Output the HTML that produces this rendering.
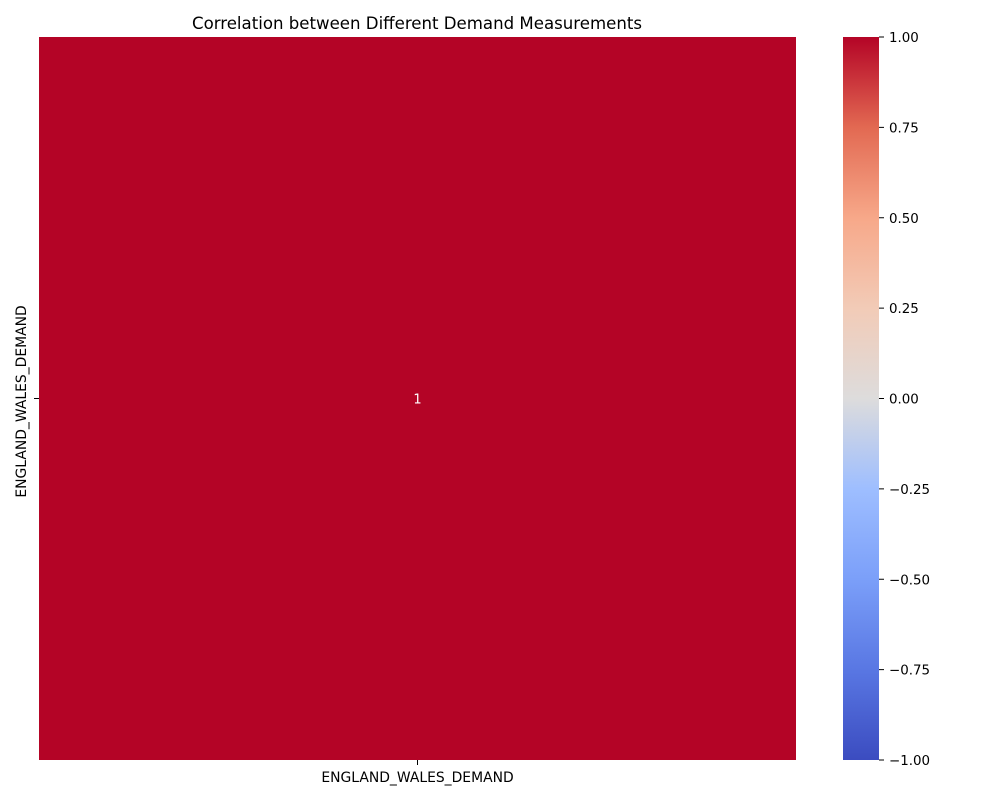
<!DOCTYPE html>
<html><head><meta charset="utf-8"><style>
body{margin:0;background:#fff;}
svg text{font-family:"DejaVu Sans","Liberation Sans",sans-serif;}
</style></head><body>
<svg id="chart" width="1000" height="800" xmlns="http://www.w3.org/2000/svg">
<defs>
<linearGradient id="cw" x1="0" y1="1" x2="0" y2="0">
<stop offset="0" stop-color="#3b4cc0"/>
<stop offset="0.125" stop-color="#5977e3"/>
<stop offset="0.25" stop-color="#7b9ff9"/>
<stop offset="0.375" stop-color="#9ebeff"/>
<stop offset="0.5" stop-color="#dddcdc"/>
<stop offset="0.625" stop-color="#f2cbb7"/>
<stop offset="0.75" stop-color="#f7a889"/>
<stop offset="0.875" stop-color="#e26952"/>
<stop offset="1" stop-color="#b40426"/>
</linearGradient>
</defs>
<text x="417" y="29" text-anchor="middle" font-size="16.6">Correlation between Different Demand Measurements</text>
<g id="cells"></g>
<rect x="843" y="37" width="36" height="723" fill="url(#cw)"/>
<g id="cbticks"></g>
</svg>
<script>
const labels = ["ENGLAND_WALES_DEMAND"];
const values = [[1]];
const cbTicks = [1.00, 0.75, 0.50, 0.25, 0.00, -0.25, -0.50, -0.75, -1.00];
const cbTickLabels = ["1.00","0.75","0.50","0.25","0.00","\u22120.25","\u22120.50","\u22120.75","\u22121.00"];

const NS="http://www.w3.org/2000/svg";
const X0=39,X1=796,Y0=37,Y1=760,CB0=37,CB1=760,CBX=879;
const n=labels.length, cw=(X1-X0)/n, ch=(Y1-Y0)/n;
const stops=[[-1,[59,76,192]],[-0.75,[89,119,227]],[-0.5,[123,159,249]],[-0.25,[158,190,255]],[0,[221,220,220]],[0.25,[242,203,183]],[0.5,[247,168,137]],[0.75,[226,105,82]],[1,[180,4,38]]];
function color(v){for(let i=0;i<stops.length-1;i++){const a=stops[i],b=stops[i+1];if(v<=b[0]){const t=(v-a[0])/(b[0]-a[0]);return "rgb("+a[1].map((c,k)=>Math.round(c+(b[1][k]-c)*t)).join(",")+")";}}return "rgb(180,4,38)";}
function mk(tag,attrs,text){const e=document.createElementNS(NS,tag);for(const k in attrs)e.setAttribute(k,attrs[k]);if(text!==undefined)e.textContent=text;return e;}
const cells=document.getElementById('cells'), svg=document.getElementById('chart');
for(let i=0;i<n;i++)for(let j=0;j<n;j++){
 const r=mk('rect',{x:X0+j*cw,y:Y0+i*ch,width:cw,height:ch,fill:color(values[i][j])});
 
 
 cells.appendChild(r);
 const t=mk('text',{x:X0+(j+0.5)*cw,y:Y0+(i+0.5)*ch+5,'text-anchor':'middle','font-size':13,fill:'#fff'},String(values[i][j]));
 
 
 cells.appendChild(t);
}
for(let j=0;j<n;j++){
 const cx=X0+(j+0.5)*cw;
 const tk=mk('line',{x1:cx,x2:cx,y1:Y1,y2:Y1+5,stroke:'#000'});
 
 
 svg.appendChild(tk);
 const t=mk('text',{x:cx,y:Y1+22,'text-anchor':'middle','font-size':13.9},labels[j]);
 
 
 svg.appendChild(t);
}
for(let i=0;i<n;i++){
 const cy=Y0+(i+0.5)*ch;
 const tk=mk('line',{x1:X0-5,x2:X0,y1:cy,y2:cy,stroke:'#000'});
 
 
 svg.appendChild(tk);
 const t=mk('text',{x:0,y:0,'text-anchor':'middle','font-size':13.9,transform:`translate(26,${cy+3}) rotate(-90)`},labels[i]);
 
 
 svg.appendChild(t);
}
const cbg=document.getElementById('cbticks');
cbTicks.forEach((v,k)=>{
 const y=CB1-(v+1)/2*(CB1-CB0);
 const tk=mk('line',{x1:CBX,x2:CBX+5,y1:y,y2:y,stroke:'#000'});
 
 
 cbg.appendChild(tk);
 const t=mk('text',{x:CBX+10,y:y+5,'font-size':13.4},cbTickLabels[k]);
 
 
 cbg.appendChild(t);
});
</script>
</body></html>
